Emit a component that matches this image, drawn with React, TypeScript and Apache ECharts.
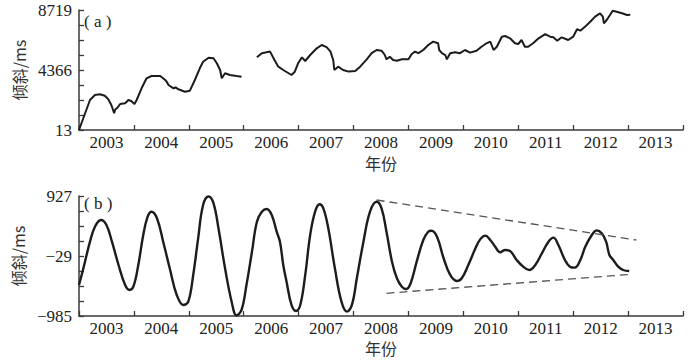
import React, { useEffect, useRef } from "react";
import * as echarts from "echarts";

// ---------- data ----------
const xYearLabels = [2003, 2004, 2005, 2006, 2007, 2008, 2009, 2010, 2011, 2012, 2013];
const xTickYears = [2003, 2004, 2005, 2006, 2007, 2008, 2009, 2010, 2011, 2012, 2013, 2014];

const topYLabels = [13, 4366, 8719];
const bottomYLabels = [-985, -29, 927];

// (a) segment 1
const topYearsA = [2003.0, 2003.1, 2003.2, 2003.29, 2003.38, 2003.47, 2003.53, 2003.58, 2003.6, 2003.64, 2003.66, 2003.69, 2003.75, 2003.84, 2003.9, 2003.95, 2004.01, 2004.05, 2004.14, 2004.23, 2004.32, 2004.48, 2004.57, 2004.6, 2004.63, 2004.72, 2004.76, 2004.81, 2004.93, 2005.02, 2005.11, 2005.2, 2005.26, 2005.36, 2005.45, 2005.51, 2005.57, 2005.6, 2005.66, 2005.75, 2005.87, 2005.96];
const topValuesA = [13, 1100, 2190, 2552, 2603, 2501, 2262, 1900, 1704, 1225, 1500, 1587, 1899, 1950, 2190, 2117, 1899, 2190, 3038, 3764, 3931, 3931, 3640, 3500, 3278, 3038, 3100, 2966, 2792, 2864, 3640, 4489, 4968, 5258, 5215, 4852, 4366, 3764, 4127, 4003, 3931, 3880];

// (a) segment 2
const topYearsB = [2006.24, 2006.33, 2006.48, 2006.56, 2006.63, 2006.72, 2006.87, 2006.93, 2006.99, 2007.06, 2007.12, 2007.21, 2007.33, 2007.42, 2007.51, 2007.58, 2007.63, 2007.65, 2007.72, 2007.81, 2007.91, 2008.03, 2008.12, 2008.24, 2008.33, 2008.42, 2008.51, 2008.57, 2008.6, 2008.66, 2008.72, 2008.79, 2008.88, 2009.0, 2009.06, 2009.12, 2009.18, 2009.27, 2009.36, 2009.45, 2009.54, 2009.56, 2009.61, 2009.67, 2009.7, 2009.76, 2009.85, 2009.94, 2010.03, 2010.12, 2010.24, 2010.33, 2010.42, 2010.49, 2010.55, 2010.61, 2010.7, 2010.76, 2010.85, 2010.94, 2011.0, 2011.06, 2011.12, 2011.18, 2011.27, 2011.37, 2011.49, 2011.58, 2011.64, 2011.71, 2011.79, 2011.91, 2012.0, 2012.07, 2012.13, 2012.22, 2012.31, 2012.4, 2012.49, 2012.54, 2012.56, 2012.61, 2012.67, 2012.72, 2012.79, 2012.89, 2012.98, 2013.04];
const topValuesB = [5287, 5585, 5701, 5092, 4605, 4366, 4003, 4243, 4852, 5287, 5019, 5454, 5940, 6180, 6020, 5700, 5092, 4366, 4605, 4366, 4250, 4294, 4605, 5142, 5585, 5817, 5766, 5454, 5142, 5330, 5092, 5040, 5142, 5142, 5527, 5700, 5585, 5817, 6180, 6426, 6303, 5817, 5585, 5454, 5142, 5585, 5657, 5585, 5817, 5629, 5766, 6056, 6303, 6426, 5817, 6056, 6782, 6833, 6666, 6303, 6252, 6543, 6056, 6056, 6303, 6666, 6963, 6782, 6738, 6492, 6738, 6543, 6782, 7326, 7217, 7515, 7870, 8240, 8480, 8240, 7754, 7994, 8356, 8668, 8596, 8480, 8356, 8378];

// (b)
const bottomYears = [2003.0, 2003.08, 2003.2, 2003.29, 2003.4, 2003.5, 2003.6, 2003.72, 2003.84, 2003.92, 2003.99, 2004.08, 2004.17, 2004.25, 2004.32, 2004.42, 2004.54, 2004.66, 2004.78, 2004.9, 2004.99, 2005.08, 2005.17, 2005.26, 2005.36, 2005.45, 2005.54, 2005.66, 2005.78, 2005.87, 2005.96, 2006.05, 2006.15, 2006.24, 2006.33, 2006.42, 2006.51, 2006.6, 2006.66, 2006.72, 2006.78, 2006.87, 2006.95, 2007.03, 2007.12, 2007.21, 2007.3, 2007.38, 2007.45, 2007.54, 2007.66, 2007.78, 2007.88, 2007.97, 2008.06, 2008.18, 2008.3, 2008.42, 2008.51, 2008.6, 2008.7, 2008.79, 2008.88, 2008.96, 2009.04, 2009.15, 2009.27, 2009.36, 2009.42, 2009.52, 2009.64, 2009.76, 2009.88, 2009.97, 2010.09, 2010.22, 2010.31, 2010.4, 2010.49, 2010.58, 2010.67, 2010.76, 2010.85, 2010.97, 2011.09, 2011.2, 2011.31, 2011.43, 2011.55, 2011.64, 2011.73, 2011.85, 2011.94, 2012.03, 2012.13, 2012.22, 2012.34, 2012.43, 2012.52, 2012.6, 2012.66, 2012.73, 2012.82, 2012.91, 2013.02];
const bottomValues = [-491, -225, 199, 438, 545, 465, 199, -172, -491, -570, -518, -172, 306, 597, 677, 572, 174, -252, -650, -809, -757, -331, 253, 784, 920, 811, 412, -225, -757, -975, -889, -491, 40, 518, 677, 720, 624, 358, 199, -172, -438, -809, -905, -809, -331, 306, 677, 795, 731, 412, -225, -757, -916, -809, -384, 199, 677, 836, 731, 358, -119, -384, -518, -555, -464, -119, 226, 358, 374, 279, -65, -331, -427, -384, -172, 94, 240, 295, 226, 119, 30, 67, 51, -92, -199, -252, -172, 14, 199, 263, 146, -92, -199, -215, -92, 119, 306, 380, 332, 199, -13, -92, -199, -252, -268];

// envelope (dashed) lines in (b)
const upperEnvYears = [2008.42, 2013.15];
const upperEnvValues = [863, 226];
const lowerEnvYears = [2008.6, 2013.07];
const lowerEnvValues = [-623, -320];

// ---------- helpers ----------
const zip = (xs: number[], ys: number[]) => {
  const n = Math.min(xs.length, ys.length);
  const out: number[][] = [];
  for (let i = 0; i < n; i++) out.push([xs[i], ys[i]]);
  return out;
};
const subdivide = (labels: number[], parts: number) => {
  const out: number[] = [];
  for (let i = 0; i < labels.length - 1; i++) {
    const a = labels[i], b = labels[i + 1];
    for (let k = 0; k < parts; k++) out.push(a + ((b - a) * k) / parts);
  }
  out.push(labels[labels.length - 1]);
  return out;
};
const fmtMinus = (v: number) => (v < 0 ? "\u2212" + Math.abs(Math.round(v)) : String(Math.round(v)));

const SERIF = "'Liberation Serif', 'DejaVu Serif', serif";
const CJK = "'Noto Sans CJK SC', sans-serif";
const AXIS_COLOR = "#3a3a3a";
const TEXT_COLOR = "#222";

function xAxis(gridIndex: number, nameGap: number) {
  return {
    type: "value",
    gridIndex,
    min: 2003,
    max: 2014,
    name: "年份",
    nameLocation: "middle",
    nameGap,
    nameTextStyle: { fontFamily: CJK, fontSize: 16, lineHeight: 16, color: "#333" },
    axisLine: { show: true, onZero: false, lineStyle: { color: AXIS_COLOR, width: 1.5 } },
    axisTick: {
      show: true,
      inside: true,
      length: 5,
      customValues: xTickYears,
      lineStyle: { color: AXIS_COLOR, width: 1.3 },
    },
    axisLabel: {
      show: true,
      customValues: xYearLabels.map((y) => y + 0.5),
      formatter: (v: number) => String(Math.floor(v)),
      fontFamily: SERIF,
      fontSize: 17,
      lineHeight: 13,
      color: TEXT_COLOR,
      margin: 6,
    },
    splitLine: { show: false },
  };
}

function yAxis(gridIndex: number, labels: number[], formatter: (v: number) => string) {
  return {
    type: "value",
    gridIndex,
    min: labels[0],
    max: labels[labels.length - 1],
    name: "倾斜/ms",
    nameLocation: "middle",
    nameRotate: 90,
    nameGap: 52,
    nameTextStyle: { fontFamily: CJK, fontSize: 16, color: "#333" },
    axisLine: { show: true, onZero: false, lineStyle: { color: AXIS_COLOR, width: 1.5 } },
    axisTick: {
      show: true,
      inside: true,
      length: 5,
      customValues: subdivide(labels, 4),
      lineStyle: { color: AXIS_COLOR, width: 1.3 },
    },
    axisLabel: {
      show: true,
      customValues: labels,
      formatter,
      fontFamily: SERIF,
      fontSize: 17,
      color: TEXT_COLOR,
      margin: 7,
    },
    splitLine: { show: false },
  };
}

export default function App() {
  const ref = useRef<HTMLDivElement>(null);

  useEffect(() => {
    if (!ref.current) return;
    const chart = echarts.init(ref.current, null, { renderer: "svg" });

    const lineBase = {
      type: "line",
      showSymbol: false,
      symbol: "none",
      silent: true,
    };

    chart.setOption({
      animation: false,
      backgroundColor: "#fff",
      grid: [
        { left: 79, right: 7, top: 10, height: 120 },
        { left: 79, right: 7, top: 196, height: 120 },
      ],
      xAxis: [xAxis(0, 25), xAxis(1, 24)],
      yAxis: [
        yAxis(0, topYLabels, (v: number) => String(Math.round(v))),
        yAxis(1, bottomYLabels, fmtMinus),
      ],
      series: [
        {
          ...lineBase,
          xAxisIndex: 0,
          yAxisIndex: 0,
          data: zip(topYearsA, topValuesA),
          lineStyle: { color: "#1c1c1c", width: 2 },
        },
        {
          ...lineBase,
          xAxisIndex: 0,
          yAxisIndex: 0,
          data: zip(topYearsB, topValuesB),
          lineStyle: { color: "#1c1c1c", width: 2 },
        },
        {
          ...lineBase,
          xAxisIndex: 1,
          yAxisIndex: 1,
          smooth: 0.4,
          data: zip(bottomYears, bottomValues),
          lineStyle: { color: "#1c1c1c", width: 2.4 },
        },
        {
          ...lineBase,
          xAxisIndex: 1,
          yAxisIndex: 1,
          data: zip(upperEnvYears, upperEnvValues),
          lineStyle: { color: "#555", width: 1.3, type: [8, 5] },
        },
        {
          ...lineBase,
          xAxisIndex: 1,
          yAxisIndex: 1,
          data: zip(lowerEnvYears, lowerEnvValues),
          lineStyle: { color: "#555", width: 1.3, type: [8, 5] },
        },
      ],
      graphic: [
        {
          type: "text",
          left: 84,
          top: 13,
          style: { text: "( a )", fontFamily: SERIF, fontSize: 17, fill: TEXT_COLOR },
        },
        {
          type: "text",
          left: 84,
          top: 195,
          style: { text: "( b )", fontFamily: SERIF, fontSize: 17, fill: TEXT_COLOR },
        },
      ],
    });

    return () => chart.dispose();
  }, []);

  return (
    <div
      ref={ref}
      style={{ position: "fixed", left: 0, top: 0, width: 690, height: 360, background: "#fff" }}
    />
  );
}
